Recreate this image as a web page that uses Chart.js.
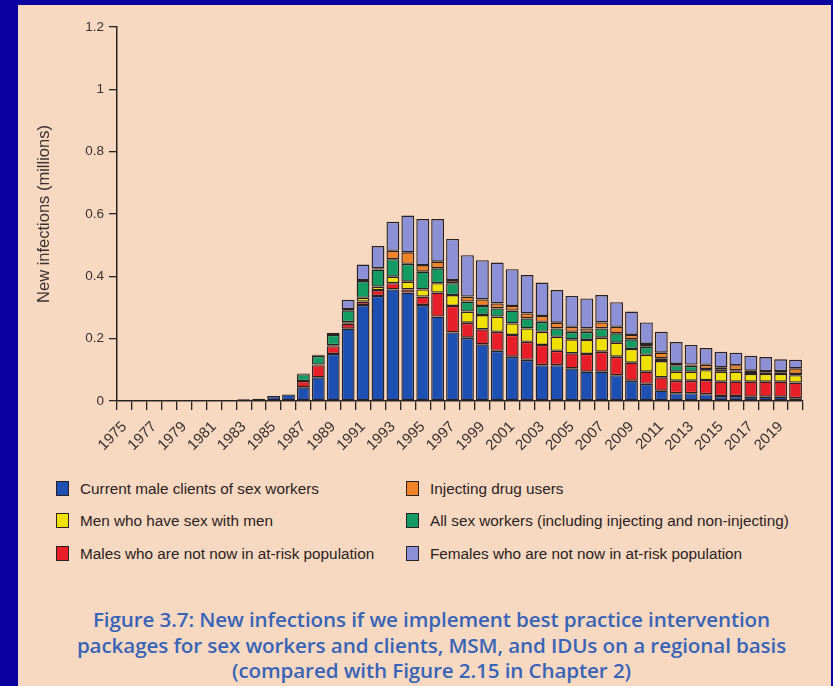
<!DOCTYPE html>
<html>
<head>
<meta charset="utf-8">
<script src="https://cdn.jsdelivr.net/npm/chart.js@4.4.0/dist/chart.umd.min.js"></script>
<style>
body { margin: 0; width: 833px; height: 686px; background: #0a00a0; overflow: hidden; }
#panel { position: absolute; left: 18px; top: 5px; width: 813px; height: 681px; background: #f7d8c0; }
#chartBox { position: absolute; left: 0; top: 0; width: 813px; height: 465px; }
.item { position: absolute; font: 15.3px 'Liberation Sans', Arial, sans-serif; color: #2a2222; white-space: nowrap; line-height: 17px; }
.box { position: absolute; left: -24px; top: 1px; width: 11px; height: 13px; border: 1px solid #2a2222; }
#caption { position: absolute; left: 12px; top: 602px; width: 803px; text-align: center; font: 600 20.6px 'Open Sans', Lato, sans-serif; line-height: 25.5px; color: #3764b8; letter-spacing: -0.1px; }
</style>
</head>
<body>
<div id="panel">
  <div id="chartBox"><canvas id="chart" width="813" height="465"></canvas></div>
  <div id="legend"></div>
  <div id="caption">Figure 3.7: New infections if we implement best practice intervention<br>packages for sex workers and clients, MSM, and IDUs on a regional basis<br>(compared with Figure 2.15 in Chapter 2)</div>
</div>
<script>
'use strict';

// categories
const years = ['1975', '1976', '1977', '1978', '1979', '1980', '1981', '1982', '1983', '1984',
    '1985', '1986', '1987', '1988', '1989', '1990', '1991', '1992', '1993', '1994',
    '1995', '1996', '1997', '1998', '1999', '2000', '2001', '2002', '2003', '2004',
    '2005', '2006', '2007', '2008', '2009', '2010', '2011', '2012', '2013', '2014',
    '2015', '2016', '2017', '2018', '2019', '2020'];

// tick labels
const xTickLabels = ['1975', '1977', '1979', '1981', '1983', '1985', '1987', '1989', '1991', '1993',
    '1995', '1997', '1999', '2001', '2003', '2005', '2007', '2009', '2011', '2013', '2015', '2017', '2019'];
const yTickValues = [0, 0.2, 0.4, 0.6, 0.8, 1, 1.2];
const yTickLabels = ['0', '0.2', '0.4', '0.6', '0.8', '1', '1.2'];

// new infections (millions), bottom of stack first
const clients = [0, 0, 0, 0, 0, 0, 0, 0, 0.006, 0.007,
    0.016, 0.021, 0.044, 0.076, 0.151, 0.232, 0.308, 0.337, 0.358, 0.348,
    0.308, 0.271, 0.220, 0.203, 0.182, 0.161, 0.142, 0.132, 0.115, 0.115,
    0.105, 0.094, 0.094, 0.083, 0.065, 0.055, 0.033, 0.025, 0.025, 0.022,
    0.016, 0.016, 0.014, 0.014, 0.014, 0.009];
const malesNotAtRisk = [0, 0, 0, 0, 0, 0, 0, 0, 0, 0,
    0, 0, 0.020, 0.039, 0.025, 0.016, 0.011, 0.019, 0.020, 0.010,
    0.027, 0.077, 0.085, 0.048, 0.048, 0.061, 0.070, 0.058, 0.065, 0.046,
    0.048, 0.057, 0.064, 0.059, 0.058, 0.039, 0.043, 0.040, 0.040, 0.045,
    0.046, 0.046, 0.048, 0.048, 0.048, 0.050];
const msm = [0, 0, 0, 0, 0, 0, 0, 0, 0, 0,
    0, 0, 0, 0.002, 0.003, 0.005, 0.012, 0.011, 0.021, 0.025,
    0.023, 0.030, 0.035, 0.036, 0.046, 0.049, 0.037, 0.043, 0.042, 0.045,
    0.045, 0.045, 0.045, 0.045, 0.044, 0.054, 0.052, 0.029, 0.029, 0.032,
    0.032, 0.032, 0.025, 0.025, 0.025, 0.024];
const sexWorkers = [0, 0, 0, 0, 0, 0, 0, 0, 0, 0,
    0, 0, 0.022, 0.028, 0.033, 0.038, 0.054, 0.055, 0.056, 0.057,
    0.057, 0.048, 0.038, 0.032, 0.029, 0.026, 0.041, 0.032, 0.032, 0.027,
    0.024, 0.026, 0.030, 0.030, 0.031, 0.026, 0.009, 0.021, 0.019, 0.004,
    0.006, 0.005, 0.006, 0.005, 0.005, 0.004];
const idu = [0, 0, 0, 0, 0, 0, 0, 0, 0, 0,
    0, 0, 0.002, 0.003, 0.007, 0.004, 0.003, 0.004, 0.027, 0.037,
    0.021, 0.021, 0.010, 0.016, 0.021, 0.016, 0.015, 0.016, 0.019, 0.018,
    0.016, 0.011, 0.019, 0.021, 0.014, 0.009, 0.018, 0.004, 0.004, 0.013,
    0.008, 0.016, 0.004, 0.004, 0.004, 0.018];
const femalesNotAtRisk = [0, 0, 0, 0, 0, 0, 0, 0, 0, 0,
    0, 0, 0, 0.001, 0, 0.030, 0.050, 0.071, 0.093, 0.118,
    0.148, 0.137, 0.132, 0.133, 0.126, 0.131, 0.118, 0.123, 0.107, 0.105,
    0.099, 0.096, 0.088, 0.079, 0.075, 0.069, 0.067, 0.070, 0.063, 0.054,
    0.050, 0.040, 0.048, 0.045, 0.038, 0.027];

const seriesNames = ['Current male clients of sex workers', 'Males who are not now in at-risk population',
    'Men who have sex with men', 'All sex workers (including injecting and non-injecting)',
    'Injecting drug users', 'Females who are not now in at-risk population'];
const seriesData = [clients, malesNotAtRisk, msm, sexWorkers, idu, femalesNotAtRisk];
const seriesColors = ['#1e50b4', '#e81e28', '#f0e000', '#149b64', '#f08228', '#8c91d7'];

const outline = '#2a2222';
const inkColor = '#3a3030';

const datasets = [];
for (let i = 0; i < seriesNames.length; i++) {
    datasets.push({
        label: seriesNames[i],
        data: seriesData[i],
        backgroundColor: seriesColors[i],
        borderColor: outline,
        borderWidth: 1.4,
        borderSkipped: false,
        barPercentage: 0.86,
        categoryPercentage: 1
    });
}

Chart.defaults.font.family = "'Liberation Sans', Arial, sans-serif";

const ctx = document.getElementById('chart').getContext('2d');
new Chart(ctx, {
    type: 'bar',
    data: { labels: years, datasets: datasets },
    options: {
        responsive: false,
        animation: false,
        layout: { padding: { left: 0, right: 28, top: 22, bottom: 0 } },
        plugins: { legend: { display: false }, tooltip: { enabled: false } },
        scales: {
            x: {
                stacked: true,
                offset: true,
                grid: { offset: true, drawOnChartArea: false, color: outline, tickLength: 9, lineWidth: 1.3 },
                border: { color: outline, width: 1.5 },
                ticks: {
                    autoSkip: false,
                    minRotation: 45,
                    maxRotation: 45,
                    padding: 8,
                    color: inkColor,
                    font: { size: 15 },
                    callback: function (value, index) {
                        const label = years[index];
                        return xTickLabels.includes(label) ? label : '';
                    }
                },
                afterFit: function (scale) { scale.height = 69; }
            },
            y: {
                stacked: true,
                min: 0,
                max: 1.2,
                afterBuildTicks: function (scale) {
                    scale.ticks = yTickValues.map(v => ({ value: v }));
                },
                grid: { drawOnChartArea: false, color: outline, tickLength: 8, lineWidth: 1.3 },
                border: { color: outline, width: 1.5 },
                ticks: {
                    padding: 5,
                    color: inkColor,
                    font: { size: 13.5 },
                    callback: function (value) {
                        return yTickLabels[yTickValues.indexOf(value)];
                    }
                },
                title: {
                    display: true,
                    text: 'New infections (millions)',
                    color: inkColor,
                    font: { size: 16.5 },
                    padding: { top: 17, bottom: 0 }
                },
                afterFit: function (scale) { scale.width = 99; }
            }
        }
    }
});

// legend laid out in two columns like the printed figure
const legendOrder = [0, 4, 2, 3, 1, 5];
const legendCols = [62, 412];
const legendRows = [475, 507, 540];
const legendDiv = document.getElementById('legend');
for (let k = 0; k < legendOrder.length; k++) {
    const s = legendOrder[k];
    const item = document.createElement('div');
    item.className = 'item';
    item.style.left = legendCols[k % 2] + 'px';
    item.style.top = legendRows[Math.floor(k / 2)] + 'px';
    item.textContent = seriesNames[s];
    const box = document.createElement('span');
    box.className = 'box';
    box.style.background = seriesColors[s];
    item.appendChild(box);
    legendDiv.appendChild(item);
}
</script>
</body>
</html>
